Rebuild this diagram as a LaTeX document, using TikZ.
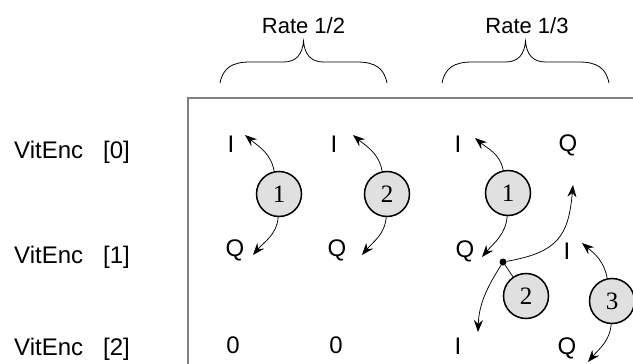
\documentclass[tikz,border=0pt]{standalone}
\usepackage{fontspec}
\setmainfont{Liberation Sans}
\newfontfamily\numfont{Liberation Serif}
\usetikzlibrary{arrows.meta}

\tikzset{
  sig/.style={font=\fontsize{24}{26}\selectfont, inner sep=0pt, anchor=base},
  enc/.style={circle, draw, line width=1.5pt, fill=black!12, minimum size=45pt, inner sep=0pt, font=\numfont\fontsize{25}{26}\selectfont},
  flow/.style={line width=0.75pt, -{Stealth[length=12pt,width=9pt,inset=4pt]}},
}

\begin{document}
\begin{tikzpicture}[x=1pt,y=1pt]
    \useasboundingbox (0,0) rectangle (633,-364);
    % frame round the table
    \draw[black!50, line width=1.3pt] (188,-364) |- (633,-98);
    % rate headings with their braces
    \node[font=\fontsize{22}{24}\selectfont, inner sep=0pt, anchor=base] (rhalf) at (303.5,-33) {Rate 1/2};
    \node[font=\fontsize{22}{24}\selectfont, inner sep=0pt, anchor=base] (rthird) at (527,-33) {Rate 1/3};
    \foreach \l/\r in {220/387,442/609}{
      \pgfmathsetmacro{\m}{(\l+\r)/2}
      \draw[line width=0.8pt] (\l,-83) .. controls (\l+3,-68) and (\l+12,-62) .. (\l+30,-62) -- (\m-20,-62)
        .. controls (\m-7,-62) and (\m-1,-54) .. (\m,-41) .. controls (\m+1,-54) and (\m+7,-62) .. (\m+20,-62)
        -- (\r-30,-62) .. controls (\r-12,-62) and (\r-3,-68) .. (\r,-83);
    }
    % encoder rows
    \node[sig, anchor=base west] (row0) at (14,-158) {VitEnc\hspace{20pt}[0]};
    \node[sig, anchor=base west] (row1) at (14,-263) {VitEnc\hspace{20pt}[1]};
    \node[sig, anchor=base west] (row2) at (14,-355) {VitEnc\hspace{20pt}[2]};
    % outputs, rate 1/2
    \node[sig] (hi1) at (231,-152) {I};
    \node[sig] (hq1) at (235,-256) {Q};
    \node[sig] (hz1) at (233,-353) {0};
    \node[sig] (hi2) at (334,-152) {I};
    \node[sig] (hq2) at (337,-256) {Q};
    \node[sig] (hz2) at (336,-353) {0};
    % outputs, rate 1/3
    \node[sig] (ti1) at (458,-152) {I};
    \node[sig] (tq1) at (465,-257) {Q};
    \node[sig] (ti2) at (458,-354) {I};
    \node[sig] (tq2) at (568,-151) {Q};
    \node[sig] (ti3) at (567,-259) {I};
    \node[sig] (tq3) at (567,-354) {Q};
    % code bits
    \node[enc] (a1) at (279,-194) {1};
    \node[enc] (a2) at (387,-194) {2};
    \node[enc] (b1) at (508,-193) {1};
    \node[enc] (b2) at (526,-296) {2};
    \node[enc] (b3) at (612,-301) {3};
    \node[circle, fill, inner sep=0pt, minimum size=7pt] (split) at (503,-262) {};
    % arrow ends
    \coordinate (a1i) at (245,-135);
    \coordinate (a1q) at (253,-255);
    \coordinate (a2i) at (353,-135);
    \coordinate (a2q) at (362,-255);
    \coordinate (b1i) at (475,-138);
    \coordinate (b1q) at (482,-257);
    \coordinate (b2q) at (573,-185);
    \coordinate (b2i) at (478,-332);
    \coordinate (b3i) at (582,-243);
    \coordinate (b3q) at (588,-362);
    \draw[flow] (a1.102) to[out=100,in=-40] (a1i);
    \draw[flow] (a1.-92) to[out=-95,in=50] (a1q);
    \draw[flow] (a2.102) to[out=100,in=-40] (a2i);
    \draw[flow] (a2.-92) to[out=-95,in=50] (a2q);
    \draw[flow] (b1.102) to[out=100,in=-40] (b1i);
    \draw[flow] (b1.-92) to[out=-95,in=50] (b1q);
    \draw[flow] (b3.102) to[out=100,in=-40] (b3i);
    \draw[flow] (b3.-92) to[out=-95,in=50] (b3q);
    % bit 2 goes to both Q and I
    \draw[line width=0.75pt] (split) -- (b2);
    \draw[flow] (split) to[out=10,in=-95,looseness=1.3] (b2q);
    \draw[flow] (split) to[out=-122,in=88] (b2i);
\end{tikzpicture}
\end{document}
